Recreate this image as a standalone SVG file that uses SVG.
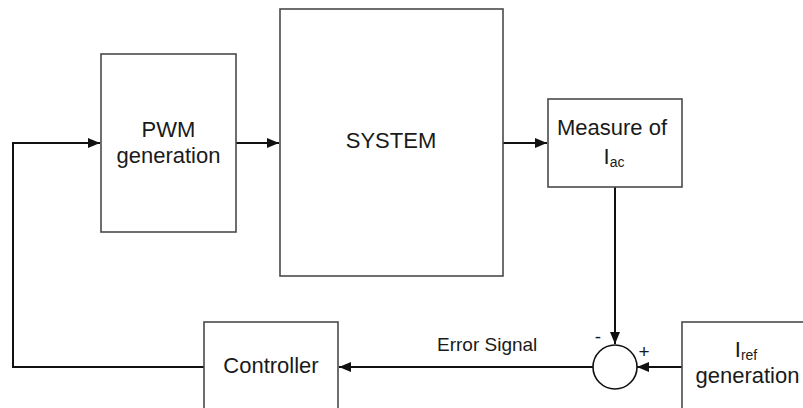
<svg xmlns="http://www.w3.org/2000/svg" width="803" height="408" viewBox="0 0 803 408">
  <style>
    .box { fill: #ffffff; stroke: #4a4a4a; stroke-width: 1.6; }
    .wire { fill: none; stroke: #111111; stroke-width: 2; }
    .lbl { font-family: "Liberation Sans", Arial, sans-serif; font-size: 22px; fill: #1a1a1a; text-anchor: middle; }
    .sub { font-size: 14px; }
    .small { font-family: "Liberation Sans", Arial, sans-serif; font-size: 19px; fill: #1a1a1a; }
  </style>
  <defs>
    <marker id="arrow" viewBox="0 0 12 10" refX="12" refY="5" markerWidth="12" markerHeight="10" markerUnits="userSpaceOnUse" orient="auto">
      <path d="M0,0 L12,5 L0,10 Z" fill="#111111"/>
    </marker>
  </defs>
  <rect width="803" height="408" fill="#ffffff"/>

  <g id="connectors">
    <polyline class="wire" points="204,367 13,367 13,143 100,143" marker-end="url(#arrow)"/>
    <line class="wire" x1="236" y1="143" x2="279" y2="143" marker-end="url(#arrow)"/>
    <line class="wire" x1="503" y1="143" x2="547" y2="143" marker-end="url(#arrow)"/>
    <line class="wire" x1="615" y1="187" x2="615" y2="344" marker-end="url(#arrow)"/>
    <line class="wire" x1="682" y1="367" x2="637" y2="367" marker-end="url(#arrow)"/>
    <line class="wire" x1="593" y1="367" x2="339" y2="367" marker-end="url(#arrow)"/>
  </g>

  <g id="pwm">
    <rect class="box" x="101" y="54" width="135" height="178"/>
    <text class="lbl" x="168.5" y="137">PWM</text>
    <text class="lbl" x="168.5" y="163">generation</text>
  </g>

  <g id="system">
    <rect class="box" x="280" y="9" width="223" height="267"/>
    <text class="lbl" x="391" y="148">SYSTEM</text>
  </g>

  <g id="measure">
    <rect class="box" x="548" y="99" width="134" height="88"/>
    <text class="lbl" x="612" y="135">Measure of</text>
    <text class="lbl" x="614" y="164">I<tspan class="sub" dy="3">ac</tspan></text>
  </g>

  <g id="summer">
    <circle cx="615" cy="367" r="22" fill="#ffffff" stroke="#111111" stroke-width="1.6"/>
    <text class="small" x="598" y="343" text-anchor="middle">-</text>
    <text class="small" x="644" y="358" text-anchor="middle">+</text>
  </g>

  <g id="iref">
    <rect class="box" x="682" y="322" width="140" height="100"/>
    <text class="lbl" x="746" y="357">I<tspan class="sub" dy="3">ref</tspan></text>
    <text class="lbl" x="747.5" y="383">generation</text>
  </g>

  <g id="controller">
    <rect class="box" x="204" y="322" width="134" height="100"/>
    <text class="lbl" x="271" y="373">Controller</text>
  </g>

  <g id="error-label">
    <text class="small" x="437" y="351">Error Signal</text>
  </g>
</svg>
